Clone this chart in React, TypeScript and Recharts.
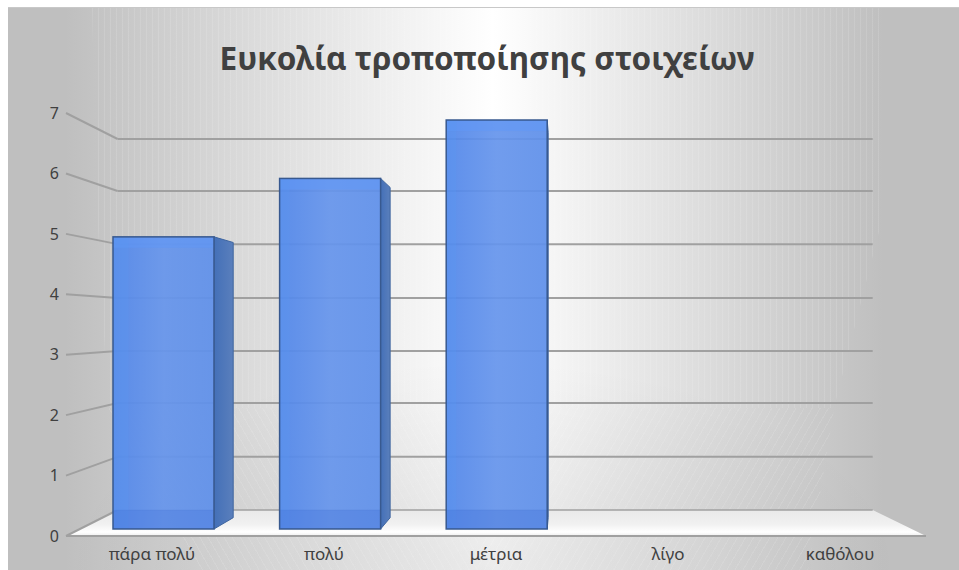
import React from 'react';
import {
  ComposedChart,
  Bar,
  Line,
  XAxis,
  YAxis,
  ReferenceLine,
  ReferenceArea,
} from 'recharts';

const categories = ['πάρα πολύ', 'πολύ', 'μέτρια', 'λίγο', 'καθόλου'];
const responses = [5, 6, 7, 0, 0];
const tickValues = [0, 1, 2, 3, 4, 5, 6, 7];
// height of each gridline on the back wall, in front-axis units
const wallLevels = [0.43, 1.31, 2.2, 3.06, 3.94, 4.83, 5.71, 6.57];
// where each category sits along the front edge, in percent
const floorPositions = [10, 30, 50, 70, 90];

const chartData = categories.map((name, i) => ({
  name,
  value: responses[i],
  floorPos: floorPositions[i],
}));

const FONT = '"Noto Sans", sans-serif';
const TEXT_COLOR = '#404040';
const GRID_COLOR = '#a0a0a0';

// back wall edges as a percentage of the floor's front edge
const WALL_LEFT = 6;
const WALL_RIGHT = 93.8;

// vanishing point used for the bar side faces
const VANISH_X = 537;
const VANISH_Y = 327;
const DEPTH = 0.058;

const Box3D = (props: any) => {
  const { x, y, width, height } = props;
  if (!height || height <= 0) return null;
  const right = x + width;
  const bottom = y + height;
  const dx = Math.max(1, (VANISH_X - right) * DEPTH);
  const topY = y + (VANISH_Y - y) * DEPTH;
  const bottomY = bottom - (bottom - VANISH_Y) * DEPTH;
  const bevel = Math.max(10, dx * 0.8);

  return (
    <g>
      <polygon
        points={`${right},${y} ${right + dx},${topY} ${right + dx},${bottomY} ${right},${bottom}`}
        fill="url(#sideFill)"
        stroke="#3f659f"
        strokeWidth={1}
      />
      <rect x={x} y={y} width={width} height={height} fill="url(#frontFill)" fillOpacity={0.93} />
      <rect x={x} y={y} width={width} height={11} fill="#5f97f8" fillOpacity={0.5} />
      <rect x={x} y={y} width={bevel} height={height} fill="#5a97f2" fillOpacity={0.3} />
      <rect x={x} y={bottom - 19} width={width} height={19} fill="#3f70d8" fillOpacity={0.35} />
      <rect
        x={x}
        y={y}
        width={width}
        height={height}
        fill="none"
        stroke="#38598f"
        strokeWidth={1.5}
      />
    </g>
  );
};

// trapezoid for the chart floor, narrowing towards the back wall
const Floor = (props: any) => {
  const { x, y, width, height } = props;
  const left = x + (width * WALL_LEFT) / 100;
  const right = x + (width * WALL_RIGHT) / 100;
  return (
    <g>
      <polygon
        points={`${x},${y + height} ${left},${y} ${right},${y} ${x + width},${y + height}`}
        fill="url(#floorFill)"
      />
      <line x1={left} y1={y} x2={right} y2={y} stroke={GRID_COLOR} strokeWidth={1.5} />
      <line x1={x} y1={y + height} x2={x + width} y2={y + height} stroke={GRID_COLOR} strokeWidth={2} />
    </g>
  );
};

const wallStreaks: React.CSSProperties = {
  position: 'absolute',
  inset: 0,
  backgroundImage:
    'repeating-linear-gradient(90deg, rgba(255,255,255,0.12) 0 1px, transparent 1px 6px)',
  clipPath: 'polygon(84px 0, 872px 0, 872px 220px, 826px 400px, 100px 400px, 90px 220px)',
};

const floorStreaksLeft: React.CSSProperties = {
  position: 'absolute',
  inset: 0,
  backgroundImage:
    'repeating-linear-gradient(60deg, rgba(255,255,255,0.1) 0 1px, transparent 1px 7px)',
  clipPath: 'polygon(100px 400px, 470px 400px, 470px 563px, 190px 563px)',
};

const floorStreaksRight: React.CSSProperties = {
  position: 'absolute',
  inset: 0,
  backgroundImage:
    'repeating-linear-gradient(120deg, rgba(255,255,255,0.1) 0 1px, transparent 1px 7px)',
  clipPath: 'polygon(470px 400px, 826px 400px, 800px 563px, 470px 563px)',
};

export default function App() {
  return (
    <div
      style={{
        position: 'absolute',
        left: 8,
        top: 7,
        width: 951,
        height: 563,
        borderTop: '1px solid #c8c8c8',
        boxSizing: 'border-box',
        background:
          'radial-gradient(ellipse 420px 210px at 50% 100%, rgba(0,0,0,0.08), transparent), linear-gradient(90deg, #bfbfbf 0%, #bfbfbf 6%, #ffffff 51%, #bfbfbf 92%, #bfbfbf 100%)',
        overflow: 'hidden',
      }}
    >
      <div style={wallStreaks} />
      <div style={floorStreaksLeft} />
      <div style={floorStreaksRight} />
      <div style={{ position: 'absolute', left: 0, top: -1 }}>
        <ComposedChart
          width={951}
          height={563}
          data={chartData}
          margin={{ top: 106, right: 33, bottom: 4, left: 0 }}
        >
          <defs>
            <linearGradient id="frontFill" x1="0" y1="0" x2="1" y2="0">
              <stop offset="0%" stopColor="#5287ea" />
              <stop offset="50%" stopColor="#6695ec" />
              <stop offset="100%" stopColor="#5f90ea" />
            </linearGradient>
            <linearGradient id="sideFill" x1="0" y1="0" x2="1" y2="0">
              <stop offset="0%" stopColor="#4470b8" />
              <stop offset="100%" stopColor="#5a7fbc" />
            </linearGradient>
            <linearGradient id="floorFill" x1="0" y1="0" x2="0" y2="1">
              <stop offset="0%" stopColor="#e9e9e9" />
              <stop offset="55%" stopColor="#f1f1f1" />
              <stop offset="85%" stopColor="#ffffff" />
              <stop offset="100%" stopColor="#eeeeee" />
            </linearGradient>
          </defs>

          <text
            x={479}
            y={63}
            textAnchor="middle"
            fontFamily={FONT}
            fontWeight={700}
            fontSize={31.5}
            fill={TEXT_COLOR}
          >
            Ευκολία τροποποίησης στοιχείων
          </text>

          <XAxis xAxisId="bars" dataKey="name" hide height={0} padding={{ left: 14, right: 13 }} />
          <XAxis
            xAxisId="wall"
            dataKey="floorPos"
            type="number"
            domain={[0, 100]}
            allowDataOverflow
            hide
            height={0}
          />
          <XAxis
            xAxisId="front"
            dataKey="name"
            height={30}
            axisLine={false}
            tickLine={false}
            tickMargin={6}
            interval={0}
            tick={{ fontFamily: FONT, fontSize: 17, fill: TEXT_COLOR }}
          />

          {/* bars stand slightly in from the front edge, hence the wider domain */}
          <YAxis yAxisId="bars" domain={[-0.12, 7.12]} hide width={0} />
          <YAxis
            yAxisId="front"
            type="number"
            domain={[0, 7]}
            allowDataOverflow
            ticks={tickValues}
            width={58}
            axisLine={false}
            tickLine={false}
            tickMargin={1}
            tick={{ fontFamily: FONT, fontSize: 16, fill: TEXT_COLOR }}
          />

          <ReferenceArea
            xAxisId="wall"
            yAxisId="front"
            x1={0}
            x2={100}
            y1={0}
            y2={wallLevels[0]}
            shape={<Floor />}
            ifOverflow="visible"
            zIndex={-60}
          />

          {tickValues.slice(1).map((tick, i) => (
            <ReferenceLine
              key={`wall-${tick}`}
              xAxisId="wall"
              yAxisId="front"
              segment={[
                { x: WALL_LEFT, y: wallLevels[i + 1] },
                { x: WALL_RIGHT, y: wallLevels[i + 1] },
              ]}
              stroke={GRID_COLOR}
              strokeWidth={2}
              ifOverflow="visible"
              zIndex={-50}
            />
          ))}
          {tickValues.map((tick, i) => (
            <ReferenceLine
              key={`side-${tick}`}
              xAxisId="wall"
              yAxisId="front"
              segment={[
                { x: 0, y: tick },
                { x: WALL_LEFT, y: wallLevels[i] },
              ]}
              stroke={GRID_COLOR}
              strokeWidth={2}
              ifOverflow="visible"
              zIndex={-50}
            />
          ))}

          {/* keeps the front value axis tied to the data */}
          <Line
            xAxisId="wall"
            yAxisId="front"
            dataKey="value"
            stroke="none"
            dot={false}
            legendType="none"
            isAnimationActive={false}
          />
          <Bar
            xAxisId="bars"
            yAxisId="bars"
            dataKey="value"
            barSize={101}
            shape={<Box3D />}
            isAnimationActive={false}
          />
        </ComposedChart>
      </div>
    </div>
  );
}
